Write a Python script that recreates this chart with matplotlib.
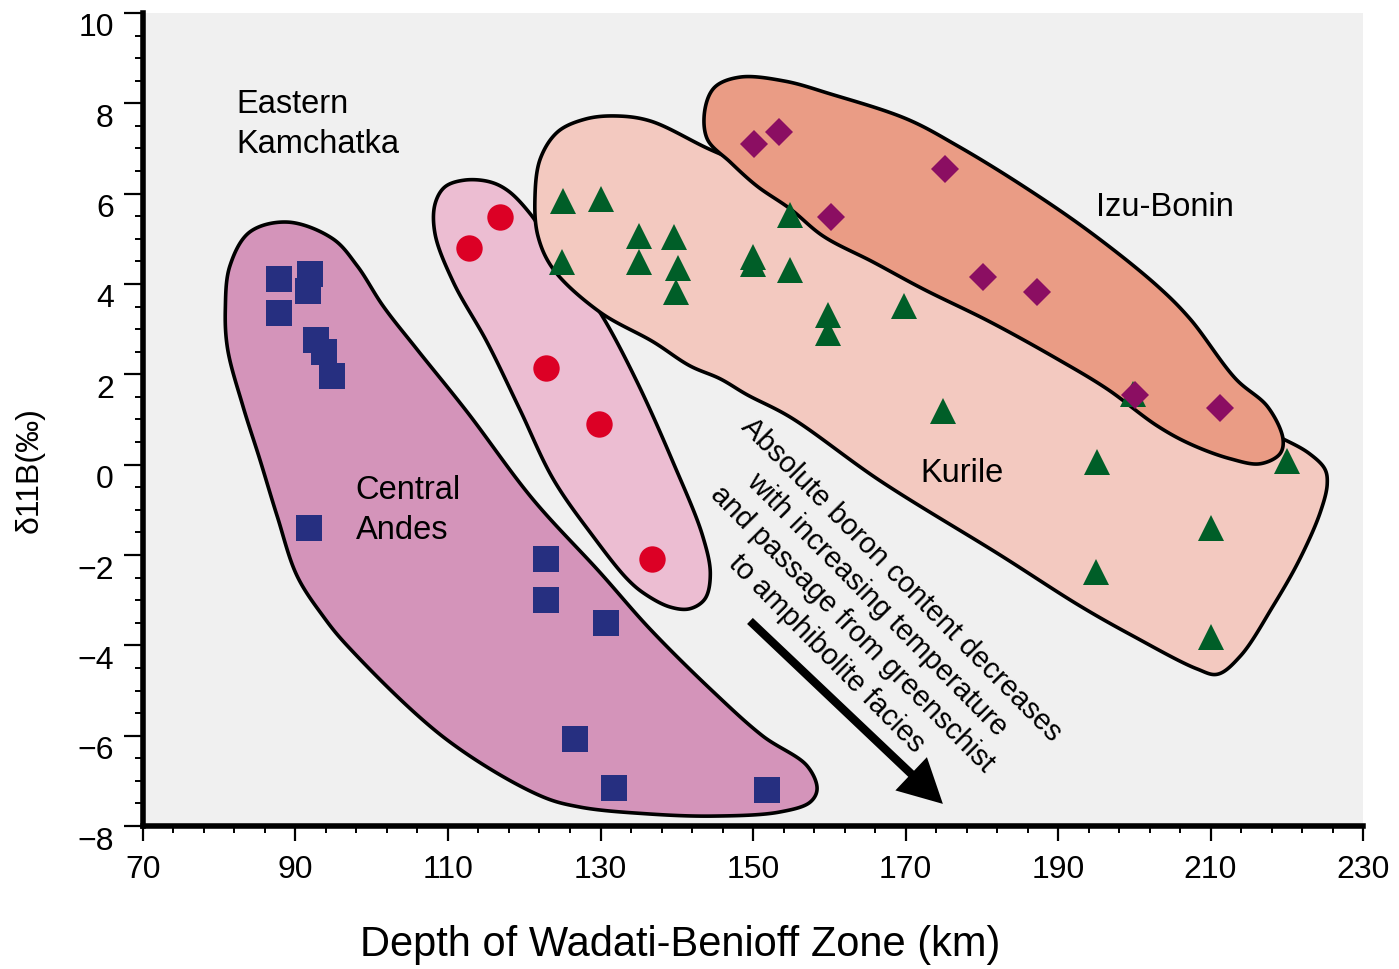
import numpy as np
import matplotlib
matplotlib.use('Agg')
import matplotlib.pyplot as plt
from matplotlib.patches import Polygon, FancyArrowPatch
from matplotlib.ticker import MultipleLocator
import matplotlib.transforms as mtrans

plt.rcParams['font.family'] = ['Liberation Sans', 'DejaVu Sans']

# ---------------- data ----------------
andes_x = [87.8, 91.9, 91.6, 87.8, 92.7, 93.7, 94.8, 91.8, 122.9, 122.9, 130.7, 126.7, 131.8, 151.8]
andes_y = [4.11, 4.22, 3.85, 3.36, 2.76, 2.49, 1.96, -1.40, -2.09, -3.00, -3.50, -6.07, -7.16, -7.20]

kamchatka_x = [116.8, 112.8, 122.9, 129.8, 136.8]
kamchatka_y = [5.48, 4.80, 2.15, 0.89, -2.09]

kurile_x = [125.1, 130.1, 135.0, 139.7, 124.9, 135.0, 140.1, 139.9, 150.0, 150.0, 154.9,
            154.8, 159.8, 159.8, 169.8, 174.9, 199.8, 195.1, 220.0, 210.0, 195.0, 210.0]
kurile_y = [5.84, 5.88, 5.07, 5.03, 4.48, 4.49, 4.35, 3.82, 4.60, 4.44, 5.53,
            4.31, 3.31, 2.92, 3.51, 1.19, 1.57, 0.05, 0.09, -1.41, -2.38, -3.81]

izu_x = [150.1, 153.4, 175.2, 160.2, 180.1, 187.2, 200.1, 211.3]
izu_y = [7.10, 7.37, 6.55, 5.48, 4.16, 3.82, 1.54, 1.25]

# envelope outlines (control points, data units)
andes_env_x = [89.0, 94.9, 98.1, 101.5, 105.9, 112.5, 121.1, 129.9, 136.5, 144.8, 151.3, 157.1,
               158.4, 157.5, 153.5, 144.8, 136.1, 127.3, 122.1, 109.7, 96.8, 93.6, 90.2, 87.6,
               85.3, 83.1, 81.1, 80.8, 81.4, 84.0]
andes_env_y = [5.37, 5.00, 4.40, 3.51, 2.56, 1.17, -0.76, -2.38, -3.64, -5.03, -6.01, -6.67,
               -7.18, -7.47, -7.69, -7.78, -7.73, -7.58, -7.33, -6.07, -4.01, -3.35, -2.46, -1.14,
               0.13, 1.30, 2.56, 3.45, 4.40, 5.15]

kam_env_x = [112.2, 115.5, 117.9, 120.8, 123.4, 126.7, 130.3, 134.8, 139.5, 143.4, 144.4, 143.7,
             141.7, 139.1, 135.8, 133.5, 129.0, 123.8, 119.4, 115.1, 110.7, 108.3, 108.3, 109.6]
kam_env_y = [6.30, 6.26, 6.06, 5.55, 4.89, 4.16, 3.27, 1.83, 0.06, -1.58, -2.42, -2.97,
             -3.19, -3.15, -2.86, -2.53, -1.58, -0.32, 1.23, 2.72, 4.04, 5.11, 5.77, 6.15]

kur_env_x = [121.4, 122.1, 124.4, 128.0, 131.9, 136.5, 144.2, 150.9, 169.3, 189.0, 208.6, 219.5,
             223.0, 225.0, 225.3, 224.4, 221.7, 218.2, 213.9, 210.9, 208.2, 199.8, 192.9, 182.4,
             166.7, 154.9, 149.2, 145.7, 141.7, 136.9, 129.9, 123.8, 121.8]
kur_env_y = [5.88, 6.77, 7.37, 7.65, 7.72, 7.61, 6.99, 6.50, 5.00, 3.23, 1.34, 0.57,
             0.24, -0.10, -0.43, -1.05, -2.09, -3.13, -4.24, -4.64, -4.52, -3.79, -3.13, -2.00,
             -0.36, 1.05, 1.55, 1.90, 2.19, 2.72, 3.38, 4.33, 5.06]

izu_env_x = [148.3, 154.2, 160.1, 170.2, 176.8, 185.4, 194.2, 203.0, 207.3, 213.3, 217.5, 219.5,
             219.1, 216.5, 212.6, 207.3, 203.0, 196.4, 189.9, 181.1, 172.3, 165.7, 159.2, 154.9,
             150.5, 147.0, 144.0, 143.7, 145.0]
izu_env_y = [8.58, 8.49, 8.21, 7.65, 7.06, 6.17, 5.15, 3.96, 3.23, 1.90, 1.28, 0.57,
             0.24, 0.02, 0.13, 0.46, 0.86, 1.68, 2.34, 3.16, 3.89, 4.49, 5.06, 5.66,
             6.17, 6.70, 7.21, 7.87, 8.36]

arrow_start = (149.6, -3.46)
arrow_end = (174.9, -7.51)

x_ticks = [70, 90, 110, 130, 150, 170, 190, 210, 230]
y_ticks = [-8, -6, -4, -2, 0, 2, 4, 6, 8, 10]

# ---------------- figure ----------------
fig = plt.figure(figsize=(13.99, 9.70), dpi=100)
ax = fig.add_axes([0.1022, 0.1474, 0.8721, 0.8382])
ax.set_xlim(70, 230)
ax.set_ylim(-8, 10)
ax.set_facecolor('#f0f0f0')


def smooth_closed(xs, ys, n=40):
    pts = ax.transData.transform(np.column_stack([xs, ys]))
    N = len(pts)
    out = []
    for i in range(N):
        p0, p1, p2, p3 = pts[(i - 1) % N], pts[i], pts[(i + 1) % N], pts[(i + 2) % N]
        t0 = 0.0
        t1 = t0 + np.linalg.norm(p1 - p0) ** 0.5
        t2 = t1 + np.linalg.norm(p2 - p1) ** 0.5
        t3 = t2 + np.linalg.norm(p3 - p2) ** 0.5
        t = np.linspace(t1, t2, n, endpoint=False)[:, None]
        a1 = (t1 - t) / (t1 - t0) * p0 + (t - t0) / (t1 - t0) * p1
        a2 = (t2 - t) / (t2 - t1) * p1 + (t - t1) / (t2 - t1) * p2
        a3 = (t3 - t) / (t3 - t2) * p2 + (t - t2) / (t3 - t2) * p3
        b1 = (t2 - t) / (t2 - t0) * a1 + (t - t0) / (t2 - t0) * a2
        b2 = (t3 - t) / (t3 - t1) * a2 + (t - t1) / (t3 - t1) * a3
        c = (t2 - t) / (t2 - t1) * b1 + (t - t1) / (t2 - t1) * b2
        out.append(c)
    curve = np.vstack(out)
    return ax.transData.inverted().transform(curve)


envelopes = [
    (andes_env_x, andes_env_y, '#d494ba', 1),
    (kam_env_x, kam_env_y, '#ecbdd2', 2),
    (kur_env_x, kur_env_y, '#f3c9c0', 3),
    (izu_env_x, izu_env_y, '#ea9c85', 4),
]
for ex, ey, col, z in envelopes:
    poly = Polygon(smooth_closed(ex, ey), closed=True, facecolor=col,
                   edgecolor='black', lw=2.6, zorder=z, joinstyle='round')
    ax.add_patch(poly)

ms = 19
ax.plot(andes_x, andes_y, 's', color='#262f80', ms=ms, mew=0, zorder=10)
ax.plot(kamchatka_x, kamchatka_y, 'o', color='#dc0025', ms=ms, mew=0, zorder=10)
ax.plot(kurile_x, kurile_y, '^', color='#005e28', ms=ms, mew=0, zorder=10)
ax.plot(izu_x, izu_y, 'D', color='#8b0e62', ms=14, mew=0, zorder=11)

# labels inside the plot
ax.text(82.3, 6.92, 'Eastern\nKamchatka', fontsize=23.5, ha='left', va='baseline',
        linespacing=1.36, zorder=12)
ax.text(97.9, -1.62, 'Central\nAndes', fontsize=23.5, ha='left', va='baseline',
        linespacing=1.36, zorder=12)
ax.text(195.0, 5.53, 'Izu-Bonin', fontsize=23.5, ha='left', va='baseline', zorder=12)
ax.text(171.9, -0.36, 'Kurile', fontsize=23.5, ha='left', va='baseline', zorder=12)
ax.text(164.6, -3.35,
        'Absolute boron content decreases\nwith increasing temperature\n'
        'and passage from greenschist\nto amphibolite facies',
        fontsize=21, rotation=-45.3, ha='center', va='center', multialignment='center',
        linespacing=1.32, rotation_mode='anchor', zorder=12)

arrow = FancyArrowPatch(posA=arrow_start, posB=arrow_end,
                        arrowstyle='simple,head_length=1.05,head_width=1.1,tail_width=0.2',
                        mutation_scale=30, color='black', lw=0, shrinkA=0, shrinkB=0, zorder=12)
ax.add_patch(arrow)

# axes styling
for s in ['top', 'right']:
    ax.spines[s].set_visible(False)
for s in ['left', 'bottom']:
    ax.spines[s].set_linewidth(4)
    ax.spines[s].set_color('black')

ax.set_xticks(x_ticks)
ax.set_yticks(y_ticks)
ax.set_xticklabels([str(v) for v in x_ticks])
ax.set_yticklabels([('\u2212' + str(-v)) if v < 0 else str(v) for v in y_ticks])
ax.xaxis.set_minor_locator(MultipleLocator(4, offset=2))
ax.yaxis.set_minor_locator(MultipleLocator(0.5))
ax.tick_params(axis='x', which='major', direction='out', length=11, width=1.6, labelsize=23, pad=9)
ax.tick_params(axis='x', which='minor', direction='out', length=5, width=1.4)
ax.tick_params(axis='y', which='major', direction='out', length=14, width=1.6, labelsize=23, pad=7)
ax.tick_params(axis='y', which='minor', direction='out', length=6, width=1.4)

offset = mtrans.ScaledTranslation(0, -11 / 100, fig.dpi_scale_trans)
for lab in ax.get_yticklabels():
    lab.set_transform(lab.get_transform() + offset)

fig.text(0.0214, 0.515, '\u03b411B(\u2030)', rotation=90, ha='center', va='center', fontsize=23)
fig.text(0.486, 0.0258, 'Depth of Wadati-Benioff Zone (km)', ha='center', va='center', fontsize=30)

fig.savefig('out.png', dpi=100, facecolor='white')
